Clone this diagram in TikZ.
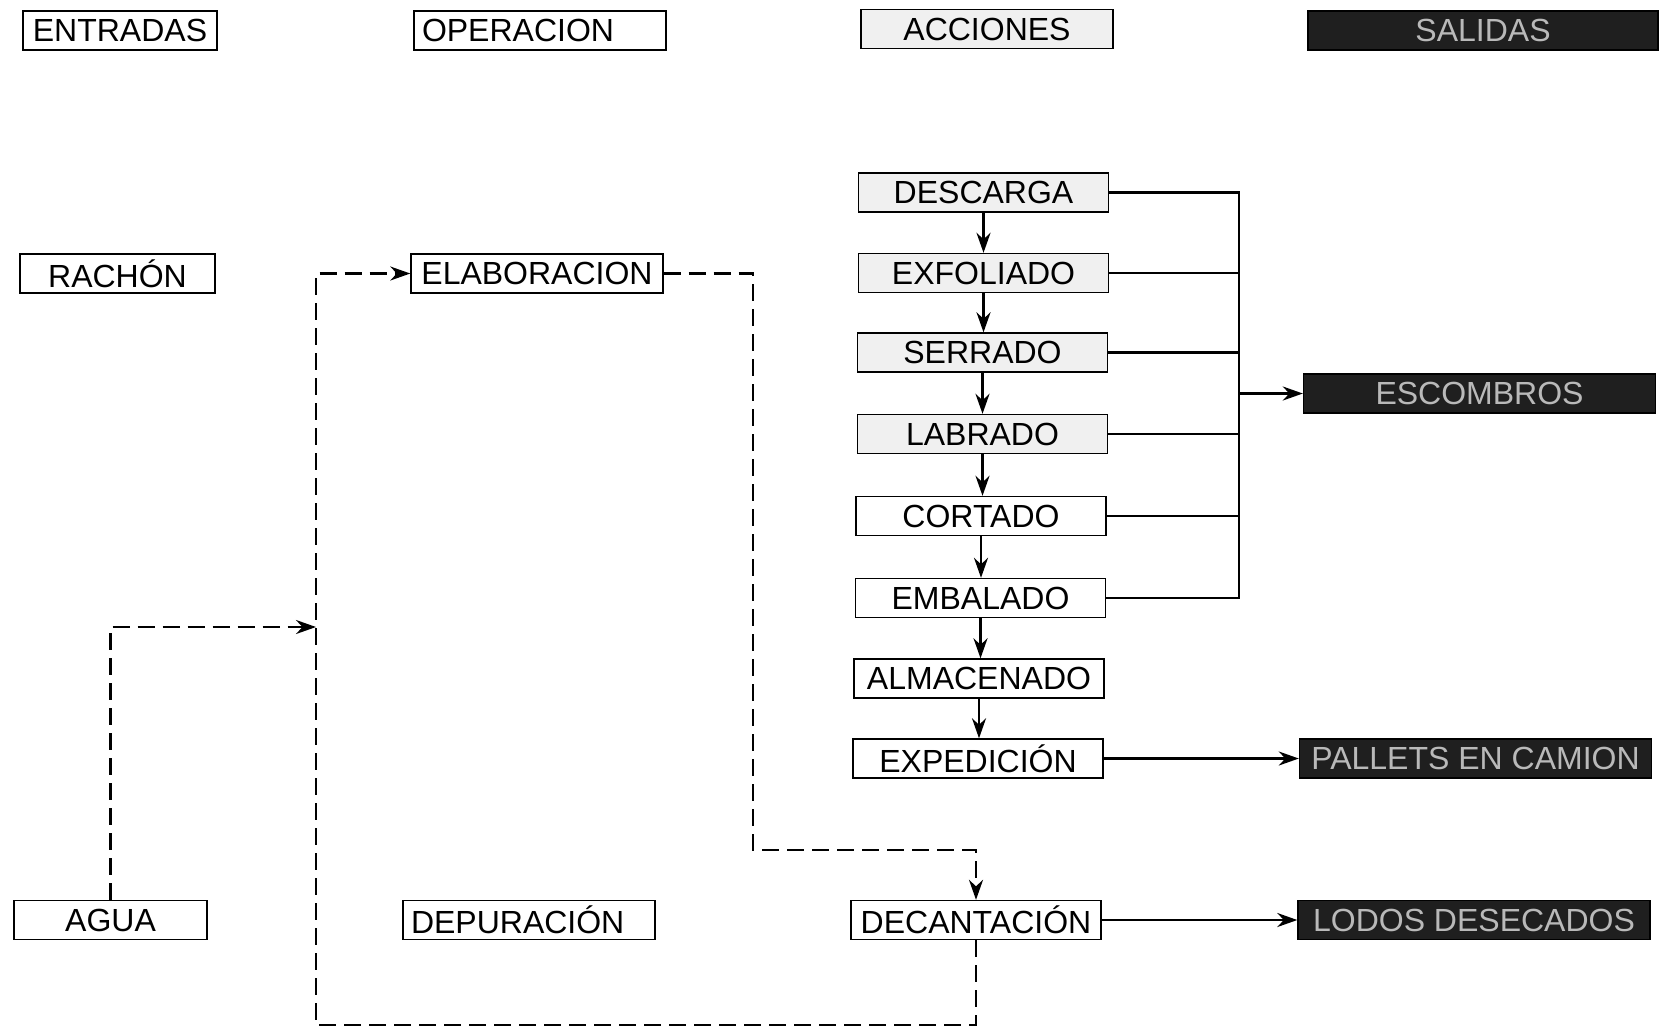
\documentclass[tikz,border=0pt]{standalone}
\usepackage{fontspec}
\setmainfont{Liberation Sans}
\usetikzlibrary{arrows.meta,positioning,calc}
\tikzset{
	box/.style={draw,line width=0.7pt,minimum width=125pt,minimum height=19.5pt,inner sep=0pt,
		font=\fontsize{16}{18}\selectfont},
	leftbox/.style={box,text width=118pt,inner xsep=4pt,align=left},
	grey box/.style={box,fill=gray!12},
	dark box/.style={box,fill=black!88,text=gray!55,minimum width=176pt},
	flow/.style={line width=1.2pt,-{Stealth[length=10pt,width=7pt]}},
	bus/.style={line width=1.2pt},
	dashline/.style={line width=1.2pt,dash pattern=on 8.5pt off 4pt},
	dashflow/.style={dashline,-{Stealth[length=10pt,width=7pt]}}
}
\begin{document}
\begin{tikzpicture}[x=0.5pt,y=-0.5pt]
\useasboundingbox (0,0) rectangle (1663,1030);
% column headings
\node[box,minimum width=97pt] (entradas) at (120,30.5) {ENTRADAS};
\node[leftbox] (operacion) at (540,30.5) {OPERACION};
\node[grey box,minimum width=126pt] (acciones) at (987,29) {ACCIONES};
\node[dark box,minimum width=175pt] (salidas) at (1483,30.5) {SALIDAS};
% inputs and operations
\node[box,minimum width=97.5pt] (rachon) at (117.5,273.5) {RACHÓN};
\node[box,minimum width=126pt] (elaboracion) at (537,273.5) {ELABORACION};
\node[box,minimum width=96.5pt] (agua) at (110.5,920) {AGUA};
\node[leftbox] (depuracion) at (529,920) {DEPURACIÓN};
% actions
\node[grey box] (descarga) at (983.5,192.5) {DESCARGA};
\node[grey box] (exfoliado) at (983.5,273) {EXFOLIADO};
\node[grey box] (serrado) at (982.5,352.5) {SERRADO};
\node[grey box] (labrado) at (982.5,434) {LABRADO};
\node[box] (cortado) at (981,516) {CORTADO};
\node[box] (embalado) at (980.5,598) {EMBALADO};
\node[box] (almacenado) at (979,678.5) {ALMACENADO};
\node[box] (expedicion) at (978,758.5) {EXPEDICIÓN};
\node[box] (decantacion) at (976,920) {DECANTACIÓN};
% outputs
\node[dark box] (escombros) at (1479.5,393.5) {ESCOMBROS};
\node[dark box] (pallets) at (1475.5,758.5) {PALLETS EN CAMION};
\node[dark box] (lodos) at (1474,920) {LODOS DESECADOS};
% chain of actions
\foreach \a/\b in {descarga/exfoliado,exfoliado/serrado,serrado/labrado,labrado/cortado,
		cortado/embalado,embalado/almacenado,almacenado/expedicion}
	\draw[flow] (\a.south) -- (\a.south |- \b.north);
% waste collector
\coordinate (busx) at (1239,0);
\draw[bus] (descarga.east) -- (descarga.east -| busx) -- (embalado.east -| busx) -- (embalado.east);
\foreach \a in {exfoliado,serrado,labrado,cortado}
	\draw[bus] (\a.east) -- (\a.east -| busx);
\draw[flow] (escombros.west -| busx) -- (escombros.west);
\draw[flow] (expedicion.east) -- (pallets.west);
\draw[flow] (decantacion.east) -- (lodos.west);
% water circuit
\coordinate (drop) at (753,850);
\coordinate (loop) at (316,1025);
\coordinate (joint) at (316,627);
\draw[dashflow] (elaboracion.east) -| (drop) -| (decantacion.north);
\draw[dashflow] (decantacion.south) |- (loop) -- (loop |- elaboracion.west) -- (elaboracion.west);
\draw[dashflow] (agua.north) |- (joint);
\end{tikzpicture}
\end{document}
